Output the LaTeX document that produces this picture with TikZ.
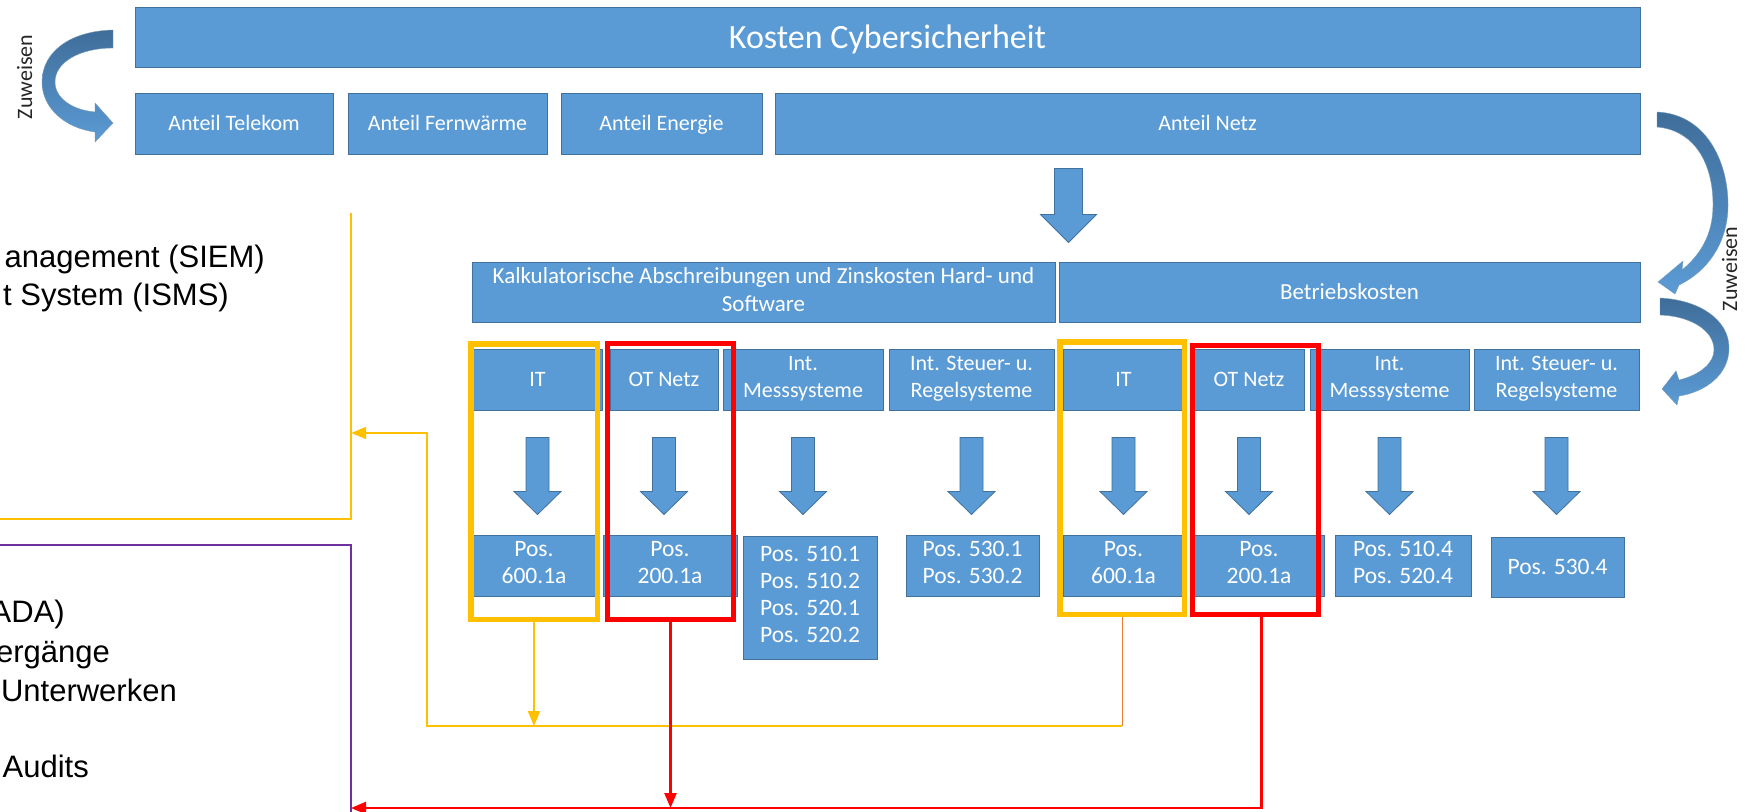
\documentclass[tikz,border=0pt]{standalone}
\usepackage{fontspec}
\setmainfont{Carlito}
\newfontfamily\arialfont{Liberation Sans}
\usetikzlibrary{arrows.meta,calc}

\definecolor{boxblue}{HTML}{5B9BD5}
\definecolor{boxedge}{HTML}{41719C}
\definecolor{deepblue}{HTML}{3F6D99}
\definecolor{ygold}{HTML}{FFC000}
\definecolor{rred}{HTML}{FF0000}
\definecolor{orng}{HTML}{ED7D31}
\definecolor{purp}{HTML}{7030A0}

% invisible rule that gives every first and last text line the same height and depth
\newcommand\boxstrut{\rule[-0.24em]{0pt}{1.16em}}

\tikzset{
  bluebox/.style={draw=boxedge, line width=1pt, fill=boxblue, text=white,
    inner sep=0pt, align=center, font=\fontsize{22}{27}\selectfont,
    execute at begin node=\boxstrut, execute at end node=\boxstrut},
  titlebox/.style={bluebox, font=\fontsize{34}{40}\selectfont},
  widebox/.style={bluebox, font=\fontsize{23}{28}\selectfont},
  posbox/.style={bluebox, font=\fontsize{23.5}{27}\selectfont},
  yframe/.style={draw=ygold, line width=5.5pt, inner sep=0pt},
  rframe/.style={draw=rred, line width=5pt, inner sep=0pt},
  area/.style={inner sep=0pt},
  yline/.style={draw=ygold, line width=2pt},
  oline/.style={draw=orng, line width=1pt},
  rline/.style={draw=rred, line width=2.4pt},
  pline/.style={draw=purp, line width=2pt},
  tip/.style={-{Triangle[length=15pt,width=12pt]}},
  bluearrow/.style={fill=boxblue, draw=boxedge, line width=0.8pt},
  bendarrow/.style={top color=deepblue, middle color=deepblue!55!boxblue, bottom color=boxblue,
    draw=boxedge!70, line width=0.4pt},
  sidelabel/.style={rotate=90, anchor=base, text=black!85, font=\fontsize{22}{26}\selectfont},
  listtext/.style={anchor=base east, inner sep=0pt, text=black, font=\arialfont\fontsize{31}{38}\selectfont},
}

% box placed by its left, top, right and bottom edges
\newcommand\placebox[7]{%
  \node[#1, minimum width={#5-#3}, minimum height={#6-#4}] (#2)
    at ({(#3+#5)/2},{(#4+#6)/2}) {#7};}
% frame placed by its outer edges
\newcommand\placeframe[7]{%
  \node[#1, minimum width={#5-#3-#7}, minimum height={#6-#4-#7}] (#2)
    at ({(#3+#5)/2},{(#4+#6)/2}) {};}
% downward block arrow: top point, tip point, shaft half width, head half width, head length
\newcommand\blockdown[5]{%
  \path[bluearrow] let \p1=#1, \p2=#2 in
    (\x1-#3,\y1) -- (\x1+#3,\y1) -- (\x1+#3,\y2+#5) -- (\x1+#4,\y2+#5) --
    (\x1,\y2) -- (\x1-#4,\y2+#5) -- (\x1-#3,\y2+#5) -- cycle;}

\begin{document}
\begin{tikzpicture}[x=1pt, y=-1pt]
\useasboundingbox (0,0) rectangle (1752,811);
\fill[white] (0,0) rectangle (1752,811);

% cost hierarchy
\placebox{titlebox}{kosten}{135}{7}{1640}{67}{Kosten Cybersicherheit}
\placebox{bluebox}{tel}{135}{93}{333}{154}{Anteil Telekom}
\placebox{bluebox}{fw}{348}{93}{547}{154}{Anteil Fernwärme}
\placebox{bluebox}{en}{561}{93}{762}{154}{Anteil Energie}
\placebox{bluebox}{netz}{775}{93}{1640}{154}{Anteil Netz}

\placebox{widebox}{kalk}{472}{262}{1055}{322}{Kalkulatorische Abschreibungen und Zinskosten Hard- und\\Software}
\placebox{widebox}{betr}{1059}{262}{1640}{322}{Betriebskosten}

\placebox{bluebox}{it1}{473}{349}{602}{410}{IT}
\placebox{bluebox}{ot1}{610}{349}{718}{410}{OT Netz}
\placebox{bluebox}{ms1}{723}{349}{883}{410}{Int.\\Messsysteme}
\placebox{bluebox}{sr1}{889}{349}{1054}{410}{Int. Steuer- u.\\Regelsysteme}
\placebox{bluebox}{it2}{1063}{349}{1184}{410}{IT}
\placebox{bluebox}{ot2}{1194}{349}{1304}{410}{OT Netz}
\placebox{bluebox}{ms2}{1310}{349}{1469}{410}{Int.\\Messsysteme}
\placebox{bluebox}{sr2}{1474}{349}{1639}{410}{Int. Steuer- u.\\Regelsysteme}

\placebox{posbox}{p1}{473}{535}{595}{596}{Pos.\\600.1a}
\placebox{posbox}{p2}{603}{535}{737}{596}{Pos.\\200.1a}
\placebox{posbox}{p3}{743}{536}{877}{659}{Pos. 510.1\\Pos. 510.2\\Pos. 520.1\\Pos. 520.2}
\placebox{posbox}{p4}{906}{535}{1039}{596}{Pos. 530.1\\Pos. 530.2}
\placebox{posbox}{p5}{1063}{535}{1184}{596}{Pos.\\600.1a}
\placebox{posbox}{p6}{1194}{535}{1324}{596}{Pos.\\200.1a}
\placebox{posbox}{p7}{1335}{535}{1471}{596}{Pos. 510.4\\Pos. 520.4}
\placebox{posbox}{p8}{1491}{537}{1624}{597}{Pos. 530.4}

% block arrows
\blockdown{($(netz.south -| betr.west)+(10,14)$)}{($(betr.north west)+(10,-19)$)}{14pt}{28pt}{28pt}
\foreach \a/\b in {it1/p1, ot1/p2, ms1/p3, sr1/p4, it2/p5, ot2/p6, ms2/p7, sr2/p8}{
  \blockdown{($(\a.south)+(0,27)$)}{($(\a.south)+(0,104)$)}{11.5pt}{23.5pt}{23pt}
}

% highlight frames
\placeframe{yframe}{yf1}{468}{341}{600}{622}{5.5}
\placeframe{rframe}{rf1}{605}{341}{736}{622}{5}
\placeframe{yframe}{yf2}{1057}{339}{1187}{617}{5.5}
\placeframe{rframe}{rf2}{1190}{343}{1321}{617}{5}

% measure lists on the left
\placebox{area}{sec}{-20}{213}{351}{519}{}
\placebox{area}{ops}{-20}{545}{351}{830}{}
\draw[yline] (sec.north east) -- (sec.south east) -- (sec.south west);
\draw[pline] (ops.south east) -- (ops.north east) -- (ops.north west);

\node[listtext] (s1) at (265,267) {anagement (SIEM)};
\node[listtext] (s2) at (229,305) {t System (ISMS)};
\node[listtext] (o1) at (65,622) {ADA)};
\node[listtext] (o2) at (110,662) {ergänge};
\node[listtext] (o3) at (177,701) {Unterwerken};
\node[listtext] (o4) at (89,777) {Audits};

% connectors
\coordinate (yj) at (427,726);
\coordinate (yk) at (427,433);
\coordinate (rj) at (351,808);
\draw[yline, tip] (yf1.south) -- (yf1.south |- yj);
\draw[oline] (yf2.south) -- (yf2.south |- yj);
\draw[yline, tip] (yf2.south |- yj) -- (yj) -- (yk) -- (yk -| sec.east);
\draw[rline, tip] (rf1.south) -- (rf1.south |- rj);
\draw[rline, tip] ([xshift=6pt]rf2.south) |- (rj);

% curved assignment arrows
\path[bendarrow] (113,30) .. controls (70,31) and (42,52) .. (42,82)
  .. controls (42,108) and (65,128) .. (95,132) -- (95,142) -- (113,123) -- (95,103) -- (95,112)
  .. controls (72,110) and (55,98) .. (55,82) .. controls (55,62) and (80,48) .. (113,48) -- cycle;
\path[bendarrow] (1657,112) .. controls (1705,114) and (1728,160) .. (1728,205)
  .. controls (1728,240) and (1710,270) .. (1679,285) -- (1675,294) -- (1658,282) -- (1683,261) -- (1682,270)
  .. controls (1700,255) and (1713,235) .. (1713,205) .. controls (1713,160) and (1692,130) .. (1657,127) -- cycle;
\path[bendarrow] (1660,298) .. controls (1700,300) and (1729,320) .. (1729,348)
  .. controls (1729,375) and (1705,392) .. (1679,396) -- (1677,405) -- (1662,389) -- (1676,371) -- (1679,380)
  .. controls (1700,375) and (1714,363) .. (1714,350) .. controls (1714,330) and (1690,316) .. (1660,315) -- cycle;

\node[sidelabel] (zl) at (32,77) {Zuweisen};
\node[sidelabel] (zr) at (1737,269) {Zuweisen};
\end{tikzpicture}
\end{document}
